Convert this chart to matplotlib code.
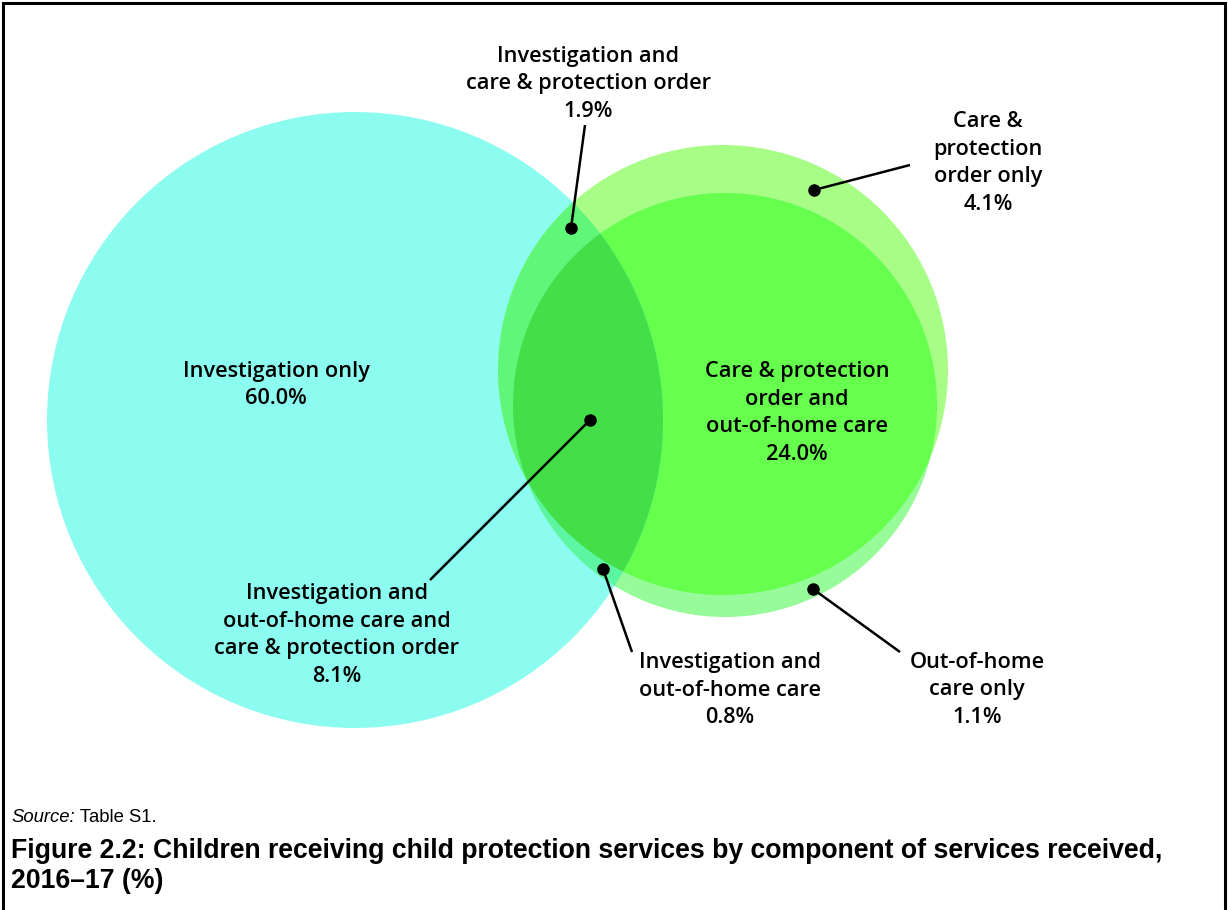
import numpy as np
import matplotlib
matplotlib.use("Agg")
import matplotlib.pyplot as plt
from matplotlib.patches import Circle, Polygon

# ---- data ----
segment_labels = [
    "Investigation only",
    "Investigation and\ncare & protection order",
    "Care &\nprotection\norder only",
    "Care & protection\norder and\nout-of-home care",
    "Investigation and\nout-of-home care and\ncare & protection order",
    "Investigation and\nout-of-home care",
    "Out-of-home\ncare only",
]
segment_values = [60.0, 1.9, 4.1, 24.0, 8.1, 0.8, 1.1]

title = ("Figure 2.2: Children receiving child protection services by component of services received,\n"
         "2016–17 (%)")
source_label = "Source:"
source_text = " Table S1."

# ---- layout (pixel space) ----
W, H = 1228, 910
fig = plt.figure(figsize=(W / 100, H / 100), dpi=100)
ax = fig.add_axes([0, 0, 1, 1])
ax.set_xlim(0, W)
ax.set_ylim(H, 0)
ax.set_aspect("equal")
ax.axis("off")

# circle geometry: investigation, care & protection order, out-of-home care
inv_c, inv_r = (355, 420), 308
cpo_c, cpo_r = (723, 370), 225
ooh_c, ooh_r = (725, 405), 212

col_inv = "#8cfcf0"
col_cpo = "#a7fd85"
col_ooh = "#97fb9a"
col_cpo_ooh = "#66ff4d"
col_inv_cpo = "#60f67a"
col_inv_ooh = "#5cf5a2"
col_all = "#43de48"

def circ(c, r, color, z):
    p = Circle(c, r, facecolor=color, edgecolor="none", zorder=z)
    ax.add_patch(p)
    return p

def clipper(c, r):
    return Circle(c, r, transform=ax.transData)

circ(inv_c, inv_r, col_inv, 1)
circ(cpo_c, cpo_r, col_cpo, 2)
circ(ooh_c, ooh_r, col_ooh, 3)
p = circ(ooh_c, ooh_r, col_cpo_ooh, 4)
p.set_clip_path(clipper(cpo_c, cpo_r))
p = circ(cpo_c, cpo_r, col_inv_cpo, 5)
p.set_clip_path(clipper(inv_c, inv_r))
p = circ(ooh_c, ooh_r, col_inv_ooh, 6)
p.set_clip_path(clipper(inv_c, inv_r))

# intersection polygon of cpo and ooh circles
t = np.linspace(0, 2 * np.pi, 2000)
def pts(c, r):
    return np.column_stack([c[0] + r * np.cos(t), c[1] + r * np.sin(t)])
def inside(P, c, r):
    return (P[:, 0] - c[0]) ** 2 + (P[:, 1] - c[1]) ** 2 <= r ** 2 + 1e-6
A = pts(cpo_c, cpo_r); A = A[inside(A, ooh_c, ooh_r)]
B = pts(ooh_c, ooh_r); B = B[inside(B, cpo_c, cpo_r)]
P = np.vstack([A, B])
m = P.mean(axis=0)
P = P[np.argsort(np.arctan2(P[:, 1] - m[1], P[:, 0] - m[0]))]
tri = Polygon(P, closed=True, facecolor=col_all, edgecolor="none", zorder=7)
ax.add_patch(tri)
tri.set_clip_path(clipper(inv_c, inv_r))

# ---- labels ----
font = dict(family="Open Sans", fontsize=15.7, fontweight="semibold", color="black",
            ha="center", va="center", linespacing=1.4, zorder=10)
# (text centre, dot, line end)
label_pos = [
    ((276, 385), None, None),
    ((588, 84), (571, 228), (585, 125)),
    ((988, 163), (814, 190), (910, 165)),
    ((797, 413), None, None),
    ((337, 635), (590, 420), (430, 580)),
    ((730, 690), (603, 569), (632, 652)),
    ((977, 690), (813, 589), (900, 652)),
]
for lab, val, (tp, dot, lend) in zip(segment_labels, segment_values, label_pos):
    ax.text(tp[0], tp[1], f"{lab}\n{val:.1f}%", **font)
    if dot is not None:
        ax.plot([dot[0], lend[0]], [dot[1], lend[1]], color="black", lw=1.8, zorder=11,
                solid_capstyle="butt")
        ax.plot(dot[0], dot[1], "o", color="black", ms=8, zorder=12)

# source and title
src = ax.text(11, 817, source_label, family="Liberation Sans", style="italic",
              fontsize=13.3, va="center", ha="left")
fig.canvas.draw()
bb = src.get_window_extent()
x_end = ax.transData.inverted().transform((bb.x1, bb.y0))[0]
ax.text(x_end, 817, source_text, family="Liberation Sans", fontsize=13.3,
        va="center", ha="left")
ax.text(11, 866, title, family="Liberation Sans", fontweight="bold", fontsize=19.2,
        va="center", ha="left", linespacing=1.25)

# frame (top, left, right)
ax.plot([3, 3, 1225, 1225], [H + 5, 3, 3, H + 5], color="black", lw=2.2,
        solid_joinstyle="miter", zorder=20, clip_on=False)

fig.savefig("out.png", dpi=100)
